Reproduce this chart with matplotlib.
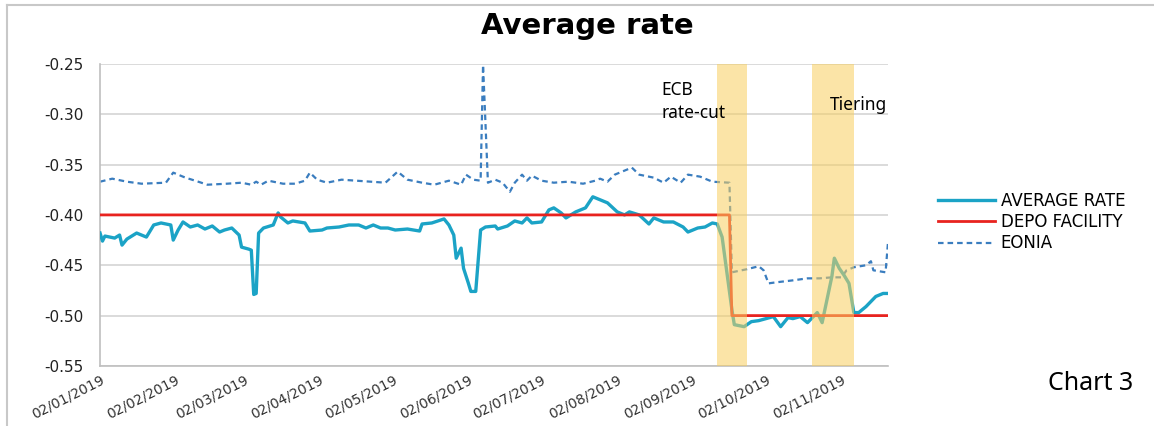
import pandas as pd
import matplotlib.pyplot as plt
import matplotlib.dates as mdates
from matplotlib.lines import Line2D

# average rate
avg_dates = ["2019-01-02", "2019-01-03", "2019-01-04", "2019-01-08", "2019-01-10", "2019-01-11",
             "2019-01-13", "2019-01-17", "2019-01-21", "2019-01-24", "2019-01-27", "2019-01-31",
             "2019-02-01", "2019-02-03", "2019-02-05", "2019-02-08", "2019-02-11", "2019-02-14",
             "2019-02-17", "2019-02-20", "2019-02-22", "2019-02-25", "2019-02-28", "2019-03-01",
             "2019-03-04", "2019-03-05", "2019-03-06", "2019-03-07", "2019-03-08", "2019-03-10",
             "2019-03-14", "2019-03-16", "2019-03-17", "2019-03-20", "2019-03-22", "2019-03-27",
             "2019-03-29", "2019-04-03", "2019-04-05", "2019-04-10", "2019-04-14", "2019-04-18",
             "2019-04-21", "2019-04-24", "2019-04-27", "2019-04-30", "2019-05-03", "2019-05-08",
             "2019-05-13", "2019-05-14", "2019-05-18", "2019-05-23", "2019-05-25", "2019-05-27",
             "2019-05-28", "2019-05-30", "2019-05-31", "2019-06-02", "2019-06-03", "2019-06-05",
             "2019-06-07", "2019-06-09", "2019-06-13", "2019-06-14", "2019-06-18", "2019-06-21",
             "2019-06-24", "2019-06-26", "2019-06-28", "2019-07-02", "2019-07-05", "2019-07-07",
             "2019-07-10", "2019-07-12", "2019-07-16", "2019-07-20", "2019-07-23", "2019-07-26",
             "2019-07-29", "2019-08-02", "2019-08-05", "2019-08-07", "2019-08-11", "2019-08-15",
             "2019-08-17", "2019-08-21", "2019-08-25", "2019-08-29", "2019-08-31", "2019-09-04",
             "2019-09-07", "2019-09-10", "2019-09-12", "2019-09-14", "2019-09-16", "2019-09-18",
             "2019-09-19", "2019-09-23", "2019-09-26", "2019-09-29", "2019-10-02", "2019-10-05",
             "2019-10-08", "2019-10-11", "2019-10-13", "2019-10-16", "2019-10-19", "2019-10-21",
             "2019-10-23", "2019-10-25", "2019-10-27", "2019-10-29", "2019-10-30", "2019-11-01",
             "2019-11-03", "2019-11-05", "2019-11-07", "2019-11-09", "2019-11-12", "2019-11-16",
             "2019-11-19", "2019-11-21"]
avg_rate = [-0.418, -0.426, -0.421, -0.423, -0.420, -0.430,
            -0.424, -0.418, -0.422, -0.410, -0.408, -0.410,
            -0.425, -0.415, -0.407, -0.412, -0.410, -0.414,
            -0.411, -0.417, -0.415, -0.413, -0.420, -0.432,
            -0.434, -0.435, -0.479, -0.478, -0.418, -0.413,
            -0.410, -0.398, -0.402, -0.408, -0.406, -0.408,
            -0.416, -0.415, -0.413, -0.412, -0.410, -0.410,
            -0.413, -0.410, -0.413, -0.413, -0.415, -0.414,
            -0.416, -0.409, -0.408, -0.404, -0.410, -0.420,
            -0.443, -0.433, -0.453, -0.468, -0.476, -0.476,
            -0.415, -0.412, -0.411, -0.414, -0.411, -0.406,
            -0.408, -0.403, -0.408, -0.407, -0.395, -0.393,
            -0.398, -0.403, -0.397, -0.393, -0.382, -0.385,
            -0.388, -0.397, -0.400, -0.397, -0.400, -0.409,
            -0.403, -0.407, -0.407, -0.412, -0.417, -0.413,
            -0.412, -0.408, -0.409, -0.422, -0.458, -0.494,
            -0.509, -0.511, -0.506, -0.505, -0.503, -0.501,
            -0.511, -0.502, -0.503, -0.501, -0.507, -0.502,
            -0.497, -0.507, -0.484, -0.461, -0.443, -0.453,
            -0.460, -0.468, -0.497, -0.497, -0.491, -0.481,
            -0.478, -0.478]

eonia_dates = ["2019-01-02", "2019-01-07", "2019-01-13", "2019-01-19", "2019-01-29", "2019-02-01",
               "2019-02-03", "2019-02-06", "2019-02-10", "2019-02-15", "2019-02-23", "2019-03-01",
               "2019-03-05", "2019-03-07", "2019-03-09", "2019-03-12", "2019-03-18", "2019-03-23",
               "2019-03-27", "2019-03-29", "2019-04-01", "2019-04-05", "2019-04-11", "2019-04-17",
               "2019-04-23", "2019-04-29", "2019-05-04", "2019-05-08", "2019-05-14", "2019-05-19",
               "2019-05-25", "2019-05-30", "2019-06-01", "2019-06-04", "2019-06-07", "2019-06-08",
               "2019-06-10", "2019-06-13", "2019-06-16", "2019-06-19", "2019-06-21", "2019-06-24",
               "2019-06-26", "2019-06-28", "2019-07-02", "2019-07-07", "2019-07-13", "2019-07-19",
               "2019-07-24", "2019-07-26", "2019-07-29", "2019-08-01", "2019-08-05", "2019-08-08",
               "2019-08-11", "2019-08-17", "2019-08-21", "2019-08-24", "2019-08-28", "2019-08-31",
               "2019-09-05", "2019-09-10", "2019-09-17", "2019-09-18", "2019-09-24", "2019-09-29",
               "2019-10-01", "2019-10-03", "2019-10-06", "2019-10-13", "2019-10-19", "2019-10-24",
               "2019-10-29", "2019-11-02", "2019-11-04", "2019-11-07", "2019-11-12", "2019-11-14",
               "2019-11-15", "2019-11-20", "2019-11-21"]
eonia = [-0.367, -0.364, -0.367, -0.369, -0.368, -0.358,
         -0.360, -0.363, -0.366, -0.370, -0.369, -0.368,
         -0.370, -0.367, -0.370, -0.366, -0.369, -0.369,
         -0.366, -0.358, -0.365, -0.368, -0.365, -0.366,
         -0.367, -0.368, -0.357, -0.365, -0.368, -0.370,
         -0.366, -0.370, -0.360, -0.365, -0.366, -0.251,
         -0.368, -0.365, -0.368, -0.377, -0.368, -0.360,
         -0.366, -0.361, -0.366, -0.368, -0.367, -0.369,
         -0.366, -0.364, -0.367, -0.360, -0.356, -0.353,
         -0.360, -0.363, -0.368, -0.362, -0.368, -0.360,
         -0.362, -0.367, -0.368, -0.457, -0.454, -0.451,
         -0.455, -0.468, -0.467, -0.465, -0.463, -0.463,
         -0.462, -0.462, -0.455, -0.452, -0.450, -0.446,
         -0.455, -0.457, -0.427]

depo_dates = ["2019-01-02", "2019-09-17", "2019-09-18", "2019-11-21"]
depo = [-0.40, -0.40, -0.50, -0.50]

# highlighted periods
bands = [("2019-09-12", "2019-09-24"), ("2019-10-21", "2019-11-07")]
tick_dates = ["2019-01-02", "2019-02-02", "2019-03-02", "2019-04-02", "2019-05-02", "2019-06-02",
              "2019-07-02", "2019-08-02", "2019-09-02", "2019-10-02", "2019-11-02"]

fig = plt.figure(figsize=(11.54, 4.26), dpi=100)
ax = fig.add_axes([0.0867, 0.141, 0.6828, 0.709])

ax.plot(pd.to_datetime(avg_dates), avg_rate, color="#1ba3c6", lw=2.4, zorder=3)
ax.plot(pd.to_datetime(depo_dates), depo, color="#e8231f", lw=2.0, zorder=4)
ax.plot(pd.to_datetime(eonia_dates), eonia, color="#3a7dbf", lw=1.6, ls=(0, (2.5, 1.8)), zorder=2)

for start, end in bands:
    ax.axvspan(pd.Timestamp(start), pd.Timestamp(end), color="#f8cf5f", alpha=0.55, lw=0, zorder=5)

ax.set_ylim(-0.55, -0.25)
ax.set_yticks([-0.55, -0.50, -0.45, -0.40, -0.35, -0.30, -0.25])
ax.set_yticklabels(["%.2f" % v for v in ax.get_yticks()], fontfamily="DejaVu Sans",
                   fontsize=11, color="#222222")
ax.set_xlim(pd.Timestamp("2019-01-02"), pd.Timestamp("2019-11-21"))
ax.set_xticks(pd.to_datetime(tick_dates))
ax.xaxis.set_major_formatter(mdates.DateFormatter("%d/%m/%Y"))
plt.setp(ax.get_xticklabels(), rotation=27, ha="right", rotation_mode="anchor",
         fontfamily="DejaVu Sans", fontsize=10, color="#333333")
ax.tick_params(axis="y", length=0, pad=12)
ax.tick_params(axis="x", length=0, pad=5)
ax.grid(axis="y", color="#d4d4d4", lw=1.2)
ax.set_axisbelow(True)
for side in ["top", "right"]:
    ax.spines[side].set_visible(False)
for side in ["left", "bottom"]:
    ax.spines[side].set_color("#bfbfbf")
    ax.spines[side].set_linewidth(1.2)

fig.text(0.509, 0.94, "Average rate", ha="center", va="center", fontfamily="DejaVu Sans",
         fontweight="bold", fontsize=21)

ann_font = "Noto Sans"
ax.text(pd.Timestamp("2019-08-20"), -0.267, "ECB\nrate-cut", fontfamily=ann_font, fontsize=12.5,
        va="top", ha="left", linespacing=1.35, zorder=6)
ax.text(pd.Timestamp("2019-10-28"), -0.282, "Tiering", fontfamily=ann_font, fontsize=12.5,
        va="top", ha="left", zorder=6)
fig.text(0.945, 0.1, "Chart 3", fontfamily=ann_font, fontsize=18, ha="center", va="center")

handles = [Line2D([], [], color="#1ba3c6", lw=2.4),
           Line2D([], [], color="#e8231f", lw=2.0),
           Line2D([], [], color="#3a7dbf", lw=1.6, ls=(0, (2.5, 1.8)))]
fig.legend(handles, ["AVERAGE RATE", "DEPO FACILITY", "EONIA"], loc="upper left",
           bbox_to_anchor=(0.8, 0.585), frameon=False, handlelength=3.4, handletextpad=0.35,
           labelspacing=0.2, prop={"family": "DejaVu Sans", "size": 12})

# outer frame (top and left edges visible in the original)
fig.add_artist(Line2D([0.006, 1.0], [0.988, 0.988], color="#c8c8c8", lw=1.5, transform=fig.transFigure))
fig.add_artist(Line2D([0.006, 0.006], [0.0, 0.988], color="#c8c8c8", lw=1.5, transform=fig.transFigure))

fig.savefig("out.png", dpi=100)
